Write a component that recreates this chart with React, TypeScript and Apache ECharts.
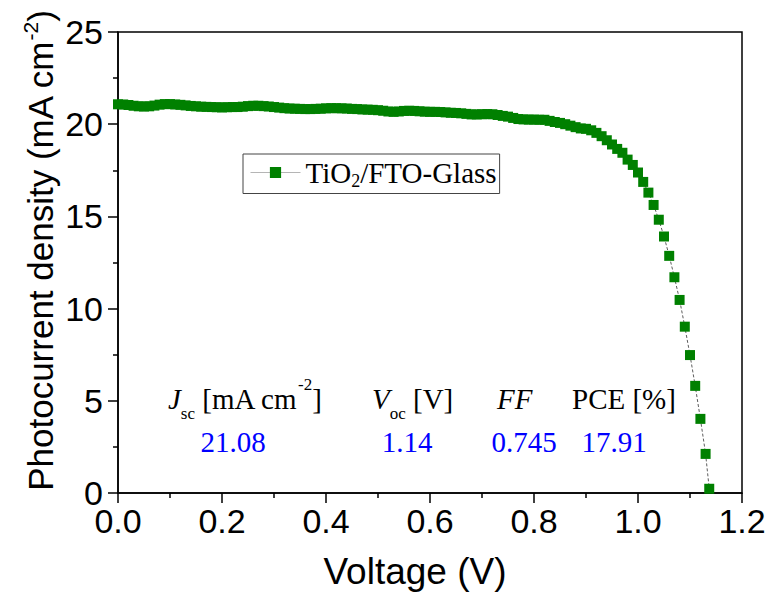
import React, { useEffect, useRef } from "react";
import * as echarts from "echarts";

const seriesName = "TiO2/FTO-Glass";

const voltage = [
  0.0, 0.01, 0.02, 0.03, 0.04, 0.05, 0.06, 0.07, 0.08, 0.09,
  0.1, 0.11, 0.12, 0.13, 0.14, 0.15, 0.16, 0.17, 0.18, 0.19,
  0.2, 0.21, 0.22, 0.23, 0.24, 0.25, 0.26, 0.27, 0.28, 0.29,
  0.3, 0.31, 0.32, 0.33, 0.34, 0.35, 0.36, 0.37, 0.38, 0.39,
  0.4, 0.41, 0.42, 0.43, 0.44, 0.45, 0.46, 0.47, 0.48, 0.49,
  0.5, 0.51, 0.52, 0.53, 0.54, 0.55, 0.56, 0.57, 0.58, 0.59,
  0.6, 0.61, 0.62, 0.63, 0.64, 0.65, 0.66, 0.67, 0.68, 0.69,
  0.7, 0.71, 0.72, 0.73, 0.74, 0.75, 0.76, 0.77, 0.78, 0.79,
  0.8, 0.81, 0.82, 0.83, 0.84, 0.85, 0.86, 0.87, 0.88, 0.89,
  0.9, 0.91, 0.92, 0.93, 0.94, 0.95, 0.96, 0.97, 0.98, 0.99,
  1.0, 1.01, 1.02, 1.03, 1.04, 1.05, 1.06, 1.07, 1.08, 1.09,
  1.1, 1.11, 1.12, 1.13, 1.137,
];

const currentDensity = [
  21.08, 21.07, 21.04, 21.0, 20.97, 20.96, 20.97, 21.01, 21.06, 21.09,
  21.09, 21.07, 21.05, 21.02, 20.99, 20.97, 20.95, 20.94, 20.93, 20.92,
  20.91, 20.92, 20.93, 20.93, 20.95, 20.98, 21.0, 21.0, 20.98, 20.96,
  20.93, 20.9, 20.87, 20.85, 20.84, 20.83, 20.82, 20.82, 20.83, 20.84,
  20.86, 20.87, 20.87, 20.86, 20.85, 20.83, 20.82, 20.8, 20.79, 20.78,
  20.76, 20.73, 20.69, 20.67, 20.69, 20.72, 20.73, 20.72, 20.7, 20.68,
  20.67, 20.67, 20.66, 20.64, 20.62, 20.61, 20.59, 20.56, 20.53, 20.53,
  20.54, 20.55, 20.54, 20.5, 20.45, 20.41, 20.34, 20.28, 20.26, 20.25,
  20.25, 20.24, 20.24, 20.18, 20.12, 20.07, 20.0, 19.92, 19.84, 19.77,
  19.75, 19.67, 19.53, 19.35, 19.13, 18.9, 18.66, 18.45, 18.08, 17.79,
  17.38, 16.87, 16.29, 15.62, 14.82, 13.91, 12.86, 11.7, 10.47, 9.02,
  7.48, 5.81, 4.02, 2.12, 0.23,
];

const xTicks = { min: 0, max: 1.2, interval: 0.2 };
const yTicks = { min: 0, max: 25, interval: 5 };

const tableValues = ["21.08", "1.14", "0.745", "17.91"];

const SANS = "'Liberation Sans', Arial, sans-serif";
const SERIF = "'Liberation Serif', 'Times New Roman', serif";

export default function App() {
  const ref = useRef<HTMLDivElement>(null);

  useEffect(() => {
    document.body.style.margin = "0";
    if (!ref.current) return;
    const chart = echarts.init(ref.current, null, { renderer: "svg" });

    const data = voltage.map((v, i) => [v, currentDensity[i]]);

    const headerRich = {
      n: { fontFamily: SERIF, fontSize: 29, color: "#000", lineHeight: 46 },
      i: { fontFamily: SERIF, fontSize: 29, fontStyle: "italic", color: "#000", lineHeight: 46 },
      sub: { fontFamily: SERIF, fontSize: 17, color: "#000", lineHeight: 16, verticalAlign: "bottom" },
      sup: { fontFamily: SERIF, fontSize: 17, color: "#000", lineHeight: 30, verticalAlign: "top" },
    };

    const headerY = 399;
    const valueY = 442;
    const valueCenters = [233, 407, 524, 614];

    const option: any = {
      animation: false,
      grid: {
        left: 118,
        right: 31,
        top: 32,
        bottom: 101,
        show: true,
        borderColor: "#000",
        borderWidth: 1.5,
        containLabel: false,
      },
      xAxis: {
        type: "value",
        min: xTicks.min,
        max: xTicks.max,
        interval: xTicks.interval,
        axisLine: { show: true, onZero: false, lineStyle: { color: "#000", width: 1.5 } },
        axisTick: { show: true, inside: false, length: 10, lineStyle: { color: "#000", width: 1.5 } },
        minorTick: { show: true, splitNumber: 2, length: 5, lineStyle: { color: "#000", width: 1.5 } },
        splitLine: { show: false },
        axisLabel: {
          color: "#000",
          fontFamily: SANS,
          fontSize: 34,
          lineHeight: 28,
          margin: 14,
          formatter: (v: number) => v.toFixed(1),
        },
      },
      yAxis: {
        type: "value",
        min: yTicks.min,
        max: yTicks.max,
        interval: yTicks.interval,
        axisLine: { show: true, onZero: false, lineStyle: { color: "#000", width: 1.5 } },
        axisTick: { show: true, inside: false, length: 10, lineStyle: { color: "#000", width: 1.5 } },
        minorTick: { show: true, splitNumber: 2, length: 5, lineStyle: { color: "#000", width: 1.5 } },
        splitLine: { show: false },
        axisLabel: {
          color: "#000",
          fontFamily: SANS,
          fontSize: 34,
          lineHeight: 22,
          margin: 15,
        },
      },
      legend: {
        show: true,
        left: 243,
        top: 154,
        orient: "horizontal",
        padding: [4, 3, 4, 7],
        itemWidth: 50,
        itemHeight: 14,
        borderColor: "#444",
        borderWidth: 1,
        backgroundColor: "#fff",
        lineStyle: { color: "#b5b5b5", width: 1, type: "solid" },
        data: [seriesName],
        formatter: () => "{a|TiO}{b|2}{a|/FTO-Glass}",
        textStyle: {
          fontFamily: SERIF,
          fontSize: 29,
          color: "#000",
          rich: {
            a: { fontFamily: SERIF, fontSize: 29, color: "#000", lineHeight: 34 },
            b: { fontFamily: SERIF, fontSize: 18, color: "#000", lineHeight: 12, verticalAlign: "bottom" },
          },
        },
      },
      series: [
        {
          name: seriesName,
          type: "line",
          data,
          symbol: "rect",
          symbolSize: 10,
          showSymbol: true,
          showAllSymbol: true,
          itemStyle: { color: "#008000" },
          lineStyle: { color: "#333", width: 0.8, type: [3, 2] },
          z: 3,
        },
      ],
      graphic: [
        {
          type: "text",
          x: 40,
          y: 251,
          rotation: Math.PI / 2,
          style: {
            text: "{n|Photocurrent density (mA cm}{sup|-2}{n|)}",
            align: "center",
            verticalAlign: "middle",
            rich: {
              n: { fontFamily: SANS, fontSize: 35, color: "#000", lineHeight: 40 },
              sup: { fontFamily: SANS, fontSize: 21, color: "#000", lineHeight: 20, verticalAlign: "top" },
            },
          },
        },
        {
          type: "text",
          x: 415,
          y: 571,
          style: {
            text: "Voltage (V)",
            fontFamily: SANS,
            fontSize: 37,
            fill: "#000",
            align: "center",
            verticalAlign: "middle",
          },
        },
        {
          type: "text",
          x: 168,
          y: headerY,
          style: {
            text: "{i|J}{sub|sc}{n| [mA cm}{sup|-2}{n|]}",
            align: "left",
            verticalAlign: "middle",
            rich: headerRich,
          },
        },
        {
          type: "text",
          x: 372,
          y: headerY,
          style: {
            text: "{i|V}{sub|oc}{n| [V]}",
            align: "left",
            verticalAlign: "middle",
            rich: headerRich,
          },
        },
        {
          type: "text",
          x: 497,
          y: headerY,
          style: {
            text: "{i|FF}",
            align: "left",
            verticalAlign: "middle",
            rich: headerRich,
          },
        },
        {
          type: "text",
          x: 572,
          y: headerY,
          style: {
            text: "{n|PCE [%]}",
            align: "left",
            verticalAlign: "middle",
            rich: headerRich,
          },
        },
        ...tableValues.map((t, i) => ({
          type: "text",
          x: valueCenters[i],
          y: valueY,
          style: {
            text: t,
            fontFamily: SERIF,
            fontSize: 29,
            fill: "#0000ff",
            align: "center",
            verticalAlign: "middle",
          },
        })),
      ],
    };

    chart.setOption(option);
    return () => chart.dispose();
  }, []);

  return <div ref={ref} style={{ width: 773, height: 594 }} />;
}
